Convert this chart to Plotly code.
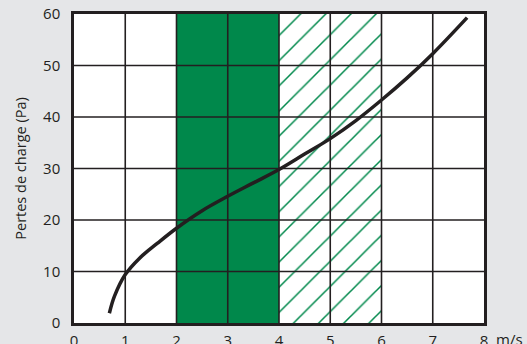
import plotly.graph_objects as go

# vitesse (m/s) -> pertes de charge (Pa)
vitesse = [0.69, 0.79, 1.0, 1.27, 1.63, 2.0, 2.5, 3.0, 3.5, 4.0, 4.5, 5.0, 5.5, 6.0, 6.5, 7.0, 7.67]
pertes = [1.9, 5.2, 9.4, 12.5, 15.5, 18.4, 21.8, 24.6, 27.2, 29.8, 32.8, 35.8, 39.3, 43.3, 47.6, 52.3, 59.3]

# zones: plage recommandée (plein) et plage tolérée (hachuré)
zone_debut = [2, 4]
zone_fin = [4, 6]
zone_haut = [60, 60]

x_ticks = [0, 1, 2, 3, 4, 5, 6, 7, 8]
y_ticks = [0, 10, 20, 30, 40, 50, 60]

VERT = "#00884b"
NOIR = "#231f20"

fig = go.Figure()

# zone pleine
fig.add_trace(go.Bar(
    x=[(zone_debut[0] + zone_fin[0]) / 2], y=[zone_haut[0]],
    width=[zone_fin[0] - zone_debut[0]],
    marker=dict(color=VERT, line=dict(width=0)),
    hoverinfo="skip",
))
# zone hachurée (le motif "/" s'étale sur size*sqrt(2))
fig.add_trace(go.Bar(
    x=[(zone_debut[1] + zone_fin[1]) / 2], y=[zone_haut[1]],
    width=[zone_fin[1] - zone_debut[1]],
    marker=dict(color="white", line=dict(width=0),
                pattern=dict(shape="/", fgcolor=VERT, bgcolor="white",
                             fgopacity=1, size=17.8, solidity=0.085)),
    hoverinfo="skip",
))

# grille par-dessus les zones
for xv in x_ticks[1:-1]:
    fig.add_shape(type="line", xref="x", yref="y", x0=xv, x1=xv,
                  y0=y_ticks[0], y1=y_ticks[-1], layer="above",
                  line=dict(color=NOIR, width=1.6))
for yv in y_ticks[1:-1]:
    fig.add_shape(type="line", xref="x", yref="y", x0=x_ticks[0], x1=x_ticks[-1],
                  y0=yv, y1=yv, layer="above",
                  line=dict(color=NOIR, width=1.6))

fig.add_trace(go.Scatter(
    x=vitesse, y=pertes, mode="lines",
    line=dict(color=NOIR, width=3.5, shape="spline", smoothing=1.0),
    hoverinfo="skip",
))

fig.add_annotation(text="m/s", xref="paper", yref="paper", x=1, y=0,
                   xanchor="left", yanchor="top", xshift=10, yshift=-4,
                   showarrow=False, font=dict(size=15, color=NOIR))

fig.update_layout(
    width=527, height=344,
    margin=dict(l=74, r=43, t=14, b=21, autoexpand=False),
    paper_bgcolor="#e5e6e8",
    plot_bgcolor="white",
    barmode="overlay",
    bargap=0,
    showlegend=False,
    font=dict(family="Open Sans, Noto Sans, sans-serif", size=15, color=NOIR),
)
fig.update_xaxes(
    range=[x_ticks[0], x_ticks[-1]], tickvals=x_ticks, showgrid=False,
    zeroline=False, showline=True, linecolor=NOIR, linewidth=2.5, mirror=True,
    ticks="", ticklabelstandoff=2, automargin=False,
)
fig.update_yaxes(
    range=[y_ticks[0], y_ticks[-1]], tickvals=y_ticks, showgrid=False,
    zeroline=False, showline=True, linecolor=NOIR, linewidth=2.5, mirror=True,
    ticks="", ticklabelstandoff=8, automargin=False,
    title=dict(text="Pertes de charge (Pa)", font=dict(size=14.5), standoff=14),
)

fig.write_html(
    "out.html",
    config=dict(displayModeBar=False),
    post_script="document.body.style.margin='0';document.body.style.overflow='hidden';",
)
